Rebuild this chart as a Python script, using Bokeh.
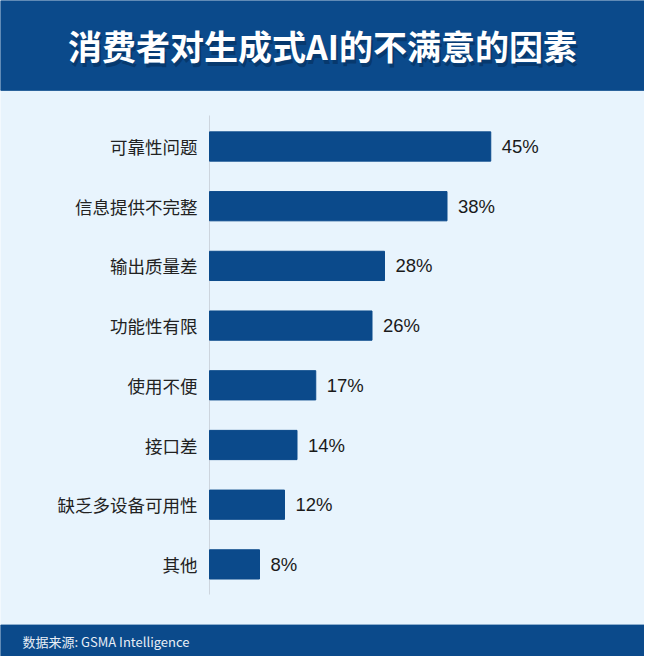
from bokeh.plotting import figure
from bokeh.models import Range1d, ColumnDataSource
from bokeh.core.properties import value
from bokeh.embed import file_html
from bokeh.resources import INLINE

title = "消费者对生成式AI的不满意的因素"
source_note = "数据来源: GSMA Intelligence"
categories = ["可靠性问题", "信息提供不完整", "输出质量差", "功能性有限",
              "使用不便", "接口差", "缺乏多设备可用性", "其他"]
values = [45, 38, 28, 26, 17, 14, 12, 8]

W, H = 644, 656
BLUE = "#0b4a8b"
BG = "#e8f4fd"

# frame covers the whole canvas; rows counted from the top
x0_px, px_per_pct = 209.0, 6.25      # where 0% sits, pixels per percent
row0_px, row_px = 146.0, 59.7        # centre of first row, row spacing

x_start = -x0_px / px_per_pct
x_end = (W - x0_px) / px_per_pct
y_top = -row0_px / row_px
y_bottom = (H - row0_px) / row_px

def py(px):
    # pixel from top -> row coordinate
    return (px - row0_px) / row_px

def pxx(px):
    return (px - x0_px) / px_per_pct

p = figure(width=W, height=H, output_backend="svg", toolbar_location=None,
           x_range=Range1d(x_start, x_end), y_range=Range1d(y_bottom, y_top),
           x_axis_location=None, y_axis_location=None, min_border=0,
           background_fill_color=BG, border_fill_color=BG)
p.outline_line_color = None
p.xgrid.visible = False
p.ygrid.visible = False

rows = list(range(len(categories)))
src = ColumnDataSource(dict(
    row=rows, cat=categories, val=values,
    lbl=[f"{v}%" for v in values]))

# header and footer bands
p.quad(left=x_start, right=x_end, top=y_top, bottom=py(89.8), color=BLUE)
p.quad(left=x_start, right=x_end, top=py(624.6), bottom=y_bottom, color=BLUE)

# thin baseline
p.segment(x0=0, x1=0, y0=py(115), y1=py(594), line_color="#cdd5de", line_width=1)

p.hbar(y="row", left=0, right="val", height=0.49, source=src,
       fill_color=BLUE, line_color=BLUE)

p.text(x=0, y="row", text="cat", source=src, x_offset=-12,
       text_align="right", text_baseline="middle",
       text_font=value("Noto Sans CJK SC"), text_font_size=value("17.5px"),
       text_color="#222222")
p.text(x="val", y="row", text="lbl", source=src, x_offset=11,
       text_align="left", text_baseline="middle",
       text_font=value("Liberation Sans"), text_font_size=value("18.5px"),
       text_color="#1a1a1a")

# title with a soft shadow
mid = (x_start + x_end) / 2
p.text(x=[mid], y=[py(45.4)], text=[title], x_offset=2, y_offset=4,
       text_align="center", text_baseline="middle",
       text_font=value("Noto Sans CJK SC"), text_font_style="bold",
       text_font_size=value("34px"), text_color="#04244a", text_alpha=0.45)
p.text(x=[mid], y=[py(45.4)], text=[title],
       text_align="center", text_baseline="middle",
       text_font=value("Noto Sans CJK SC"), text_font_style="bold",
       text_font_size=value("34px"), text_color="white")

p.text(x=[pxx(22)], y=[py(641)], text=[source_note],
       text_align="left", text_baseline="middle",
       text_font=value("Noto Sans CJK SC"), text_font_size=value("13px"),
       text_color="#e8eef6")

open("out.html", "w").write(file_html(p, INLINE))
